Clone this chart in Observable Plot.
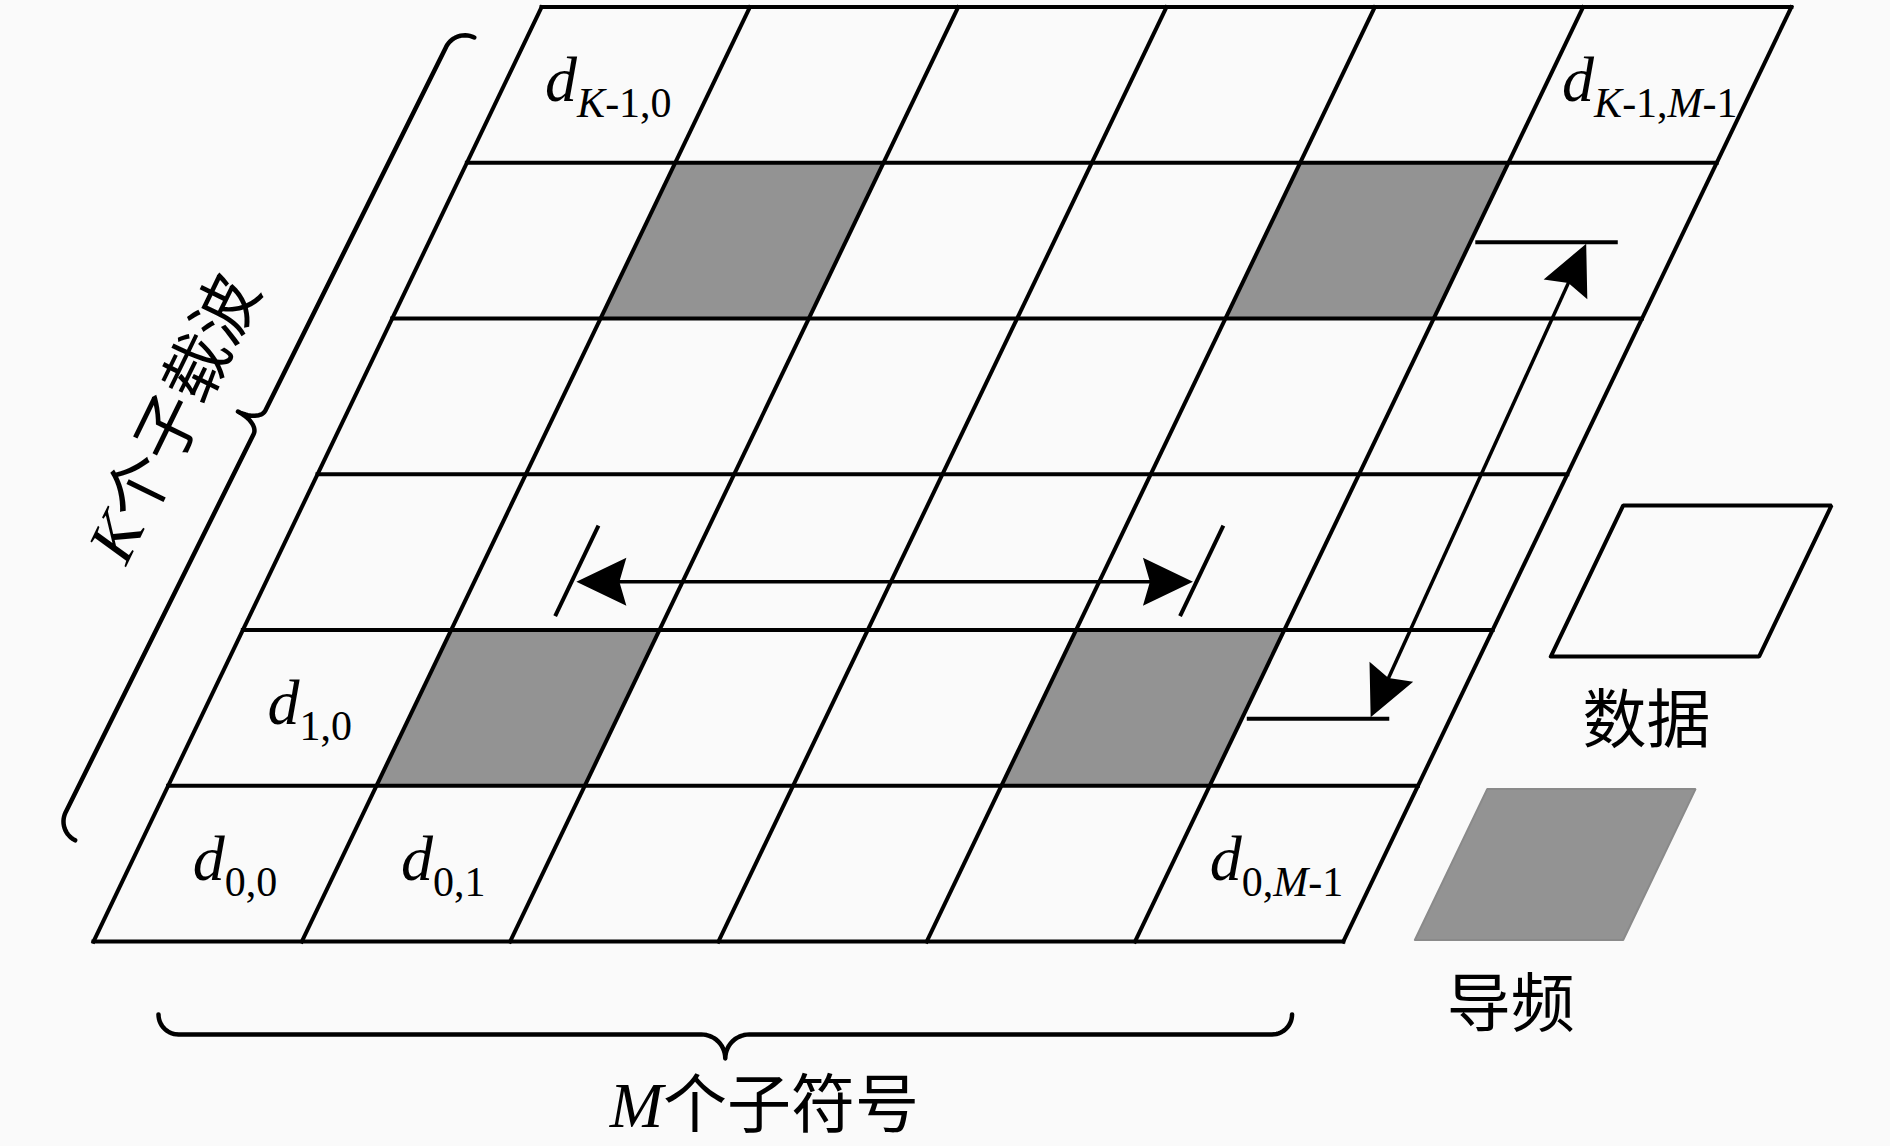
<!DOCTYPE html>
<html lang="zh">
<head>
<meta charset="utf-8">
<title>导频图样</title>
<script src="https://cdn.jsdelivr.net/npm/d3@7"></script>
<script src="https://cdn.jsdelivr.net/npm/@observablehq/plot@0.6"></script>
<style>
  html, body { margin: 0; padding: 0; background: #fafafa; }
  #chart svg { display: block; }
</style>
</head>
<body>
<div id="chart"></div>
<script>
// resource grid: K subcarriers (rows) x M sub-symbols (columns)
const rowEdges = [0, 1, 2, 3, 4, 5, 6]
const colEdges = [0, 1, 2, 3, 4, 5, 6]
const pilotRows = [1, 4]
const pilotCols = [1, 4]

// "_" starts the subscript
const cellLabels = [
  {row: 5, col: 0, text: "d_K-1,0"},
  {row: 5, col: 5, text: "d_K-1,M-1"},
  {row: 1, col: 0, text: "d_1,0"},
  {row: 0, col: 0, text: "d_0,0"},
  {row: 0, col: 1, text: "d_0,1"},
  {row: 0, col: 5, text: "d_0,M-1"}
]

const legendNames = ["数据", "导频"]
const legendFills = ["#fafafa", "#939393"]
const legendStrokes = ["#000", "#8a8a8a"]
const rowTitle = "K个子载波"
const colTitle = "M个子符号"

// layout, px
const W = 1890, H = 1146
const pxCol = 208.3, pxRow = 155.73   // one cell
const left = 93, bottom = 941         // bottom-left corner of the grid
const shear = 0.3585                  // columns of shift per row
const nCols = colEdges.length - 1, nRows = rowEdges.length - 1

const sx = (c, r) => c + shear * r
const toPx = p => [left + pxCol * p.x, bottom - pxRow * p.y]
const fromPx = ([X, Y]) => ({x: (X - left) / pxCol, y: (bottom - Y) / pxRow})
const pt = (c, r) => ({x: sx(c, r), y: r})

function quad(c, r, w, h, id, closed) {
  const pts = [[c, r], [c + w, r], [c + w, r + h], [c, r + h]]
  if (closed) pts.push([c, r])
  return pts.map(([cc, rr]) => ({id, ...pt(cc, rr)}))
}

const pilotCells = pilotRows.flatMap(r => pilotCols.map(c => quad(c, r, 1, 1, `p${r}-${c}`))).flat()

// legend boxes on the right
const legendCol = 6.34
const legendRow = i => 1.83 - 1.82 * i
const legendBoxes = legendNames.map((name, i) => ({name, i, pts: quad(legendCol, legendRow(i), 1, 0.97, name, true)}))
const legendText = legendNames.map((name, i) => ({
  name,
  x: sx(legendCol + 0.5, legendRow(i)) - 0.04,
  y: legendRow(i) - 0.55
}))

// curly brace drawn in px space, returned in grid units
function brace(p0, p1, side, hook, tipDepth, tipRun, f, id) {
  const A = toPx(p0), B = toPx(p1)
  const L = Math.hypot(B[0] - A[0], B[1] - A[1])
  const ax = (B[0] - A[0]) / L, ay = (B[1] - A[1]) / L
  const nx = -ay * side, ny = ax * side
  const tm = L * f, n = 14, q = Math.PI / 2
  const loc = []
  for (let i = 0; i <= n; i++) { const a = i / n * q; loc.push([hook * (1 - Math.cos(a)), -hook * (1 - Math.sin(a))]) }
  for (let i = 0; i <= n; i++) { const a = i / n * q; loc.push([tm - tipRun + tipRun * Math.sin(a), tipDepth * (1 - Math.cos(a))]) }
  for (let i = n; i >= 0; i--) { const a = i / n * q; loc.push([tm + tipRun - tipRun * Math.sin(a), tipDepth * (1 - Math.cos(a))]) }
  for (let i = n; i >= 0; i--) { const a = i / n * q; loc.push([L - hook * (1 - Math.cos(a)), -hook * (1 - Math.sin(a))]) }
  return loc.map(([t, h]) => ({id, ...fromPx([A[0] + t * ax + h * nx, A[1] + t * ay + h * ny])}))
}

const braces = [
  ...brace(pt(-0.433, 0.71), pt(-0.365, 5.865), -1, 21, 24, 13, 0.509, "rows"),
  ...brace({x: 0.312, y: -0.597}, {x: 5.754, y: -0.597}, 1, 20, 24, 24, 0.5, "cols")
]

// filled arrow head, tip -> back along the shaft
const headLen = 50, headHalf = 24, headNotch = 7
function head(tip, from, id) {
  const T = toPx(tip), F = toPx(from)
  const d = Math.hypot(F[0] - T[0], F[1] - T[1])
  const ux = (F[0] - T[0]) / d, uy = (F[1] - T[1]) / d
  const vx = -uy, vy = ux
  return [[0, 0], [headLen, headHalf], [headLen - headNotch, 0], [headLen, -headHalf]]
    .map(([a, b]) => ({id, ...fromPx([T[0] + a * ux + b * vx, T[1] + a * uy + b * vy])}))
}
function inset(tip, from, k) {
  const T = toPx(tip), F = toPx(from)
  const d = Math.hypot(F[0] - T[0], F[1] - T[1])
  return fromPx([T[0] + (F[0] - T[0]) / d * k, T[1] + (F[1] - T[1]) / d * k])
}

// pilot spacing in time (horizontal) and in frequency (slanted)
const tRow = 2.31, tBars = [1.467, 4.467], tBarRows = [2.09, 2.67]
const tA = pt(1.49, tRow), tB = pt(4.45, tRow)
const fBars = [1.43, 4.49], fBarCols = [5.024, 5.708]
const fA = pt(5.615, 1.44), fB = pt(5.56, 4.48)

const shafts = [[tA, tB], [fA, fB]].map(([a, b]) => ({a: inset(a, b, headLen - headNotch - 2), b: inset(b, a, headLen - headNotch - 2)}))
const heads = [...head(tA, tB, "h1"), ...head(tB, tA, "h2"), ...head(fA, fB, "h3"), ...head(fB, fA, "h4")]

const bars = [
  ...tBars.map(c => ({a: pt(c, tBarRows[0]), b: pt(c, tBarRows[1])})),
  ...fBars.map(r => ({a: pt(fBarCols[0], r), b: pt(fBarCols[1], r)}))
]

const lw = 4

let chart = Plot.plot({
  width: W,
  height: H,
  margin: 0,
  x: {domain: [-left / pxCol, (W - left) / pxCol], axis: null},
  y: {domain: [(bottom - H) / pxRow, bottom / pxRow], axis: null},
  style: {background: "#fafafa", overflow: "visible"},
  marks: [
    // pilots
    Plot.line(pilotCells, {x: "x", y: "y", z: "id", fill: "#939393", stroke: "none"}),

    // grid
    Plot.link(rowEdges, {
      x1: r => sx(0, r), y1: r => r, x2: r => sx(nCols, r), y2: r => r,
      stroke: "#000", strokeWidth: lw, strokeLinecap: "square"
    }),
    Plot.link(colEdges, {
      x1: c => sx(c, 0), y1: 0, x2: c => sx(c, nRows), y2: nRows,
      stroke: "#000", strokeWidth: lw, strokeLinecap: "square"
    }),

    // spacing arrows
    Plot.link(bars, {x1: d => d.a.x, y1: d => d.a.y, x2: d => d.b.x, y2: d => d.b.y, stroke: "#000", strokeWidth: lw}),
    Plot.link(shafts, {x1: d => d.a.x, y1: d => d.a.y, x2: d => d.b.x, y2: d => d.b.y, stroke: "#000", strokeWidth: 3.5}),
    Plot.line(heads, {x: "x", y: "y", z: "id", fill: "#000", stroke: "none"}),

    // braces
    Plot.line(braces, {x: "x", y: "y", z: "id", stroke: "#000", strokeWidth: 4.5, strokeLinecap: "round", curve: "linear"}),

    // legend
    ...legendBoxes.map(b => Plot.line(b.pts, {
      x: "x", y: "y", fill: legendFills[b.i], stroke: legendStrokes[b.i],
      strokeWidth: b.i === 0 ? lw : 2, strokeLinejoin: "miter"
    })),
    Plot.text(legendText, {
      x: "x", y: "y", text: "name", lineAnchor: "bottom",
      fontSize: 64, fontFamily: "Noto Sans CJK SC", fill: "#000"
    }),

    // cell labels
    Plot.text(cellLabels, {
      x: d => sx(d.col + 0.5, d.row + 0.5), y: d => d.row + 0.5, text: "text",
      dy: 16, lineAnchor: "bottom", fontSize: 64, fontFamily: "Liberation Serif", fill: "#000"
    }),

    // brace titles
    Plot.text([rowTitle], {
      x: sx(-0.813, 3.356), y: 3.356, text: d => d, rotate: -64,
      lineAnchor: "middle", fontSize: 66, fontFamily: "Liberation Serif", fill: "#000"
    }),
    Plot.text([colTitle], {
      x: 3.221, y: -1.19, text: d => d, lineAnchor: "bottom",
      fontSize: 64, fontFamily: "Liberation Serif", fill: "#000"
    })
  ]
})

// mixed text: italic latin letters, upright digits, CJK glyphs, subscript after "_"
const ns = "http://www.w3.org/2000/svg"
function runs(parent, str) {
  for (const m of str.match(/[A-Za-z]+|[0-9,\-]+|[^A-Za-z0-9,\-]+/g) || []) {
    const t = document.createElementNS(ns, "tspan")
    t.textContent = m
    if (/[A-Za-z]/.test(m)) {
      t.setAttribute("font-family", "Liberation Serif")
      t.setAttribute("font-style", "italic")
    } else if (/[0-9,\-]/.test(m[0])) {
      t.setAttribute("font-family", "Liberation Serif")
      t.setAttribute("font-style", "normal")
    } else {
      t.setAttribute("font-family", "Noto Sans CJK SC")
      t.setAttribute("font-style", "normal")
    }
    parent.appendChild(t)
  }
}
d3.select(chart).selectAll("text").each(function () {
  const [main, sub] = this.textContent.split("_")
  this.textContent = ""
  runs(this, main)
  if (sub) {
    const s = document.createElementNS(ns, "tspan")
    s.setAttribute("dy", 16)
    s.setAttribute("font-size", 42)
    runs(s, sub)
    this.appendChild(s)
  }
})

d3.select('#chart').append(() => chart)
</script>
</body>
</html>
